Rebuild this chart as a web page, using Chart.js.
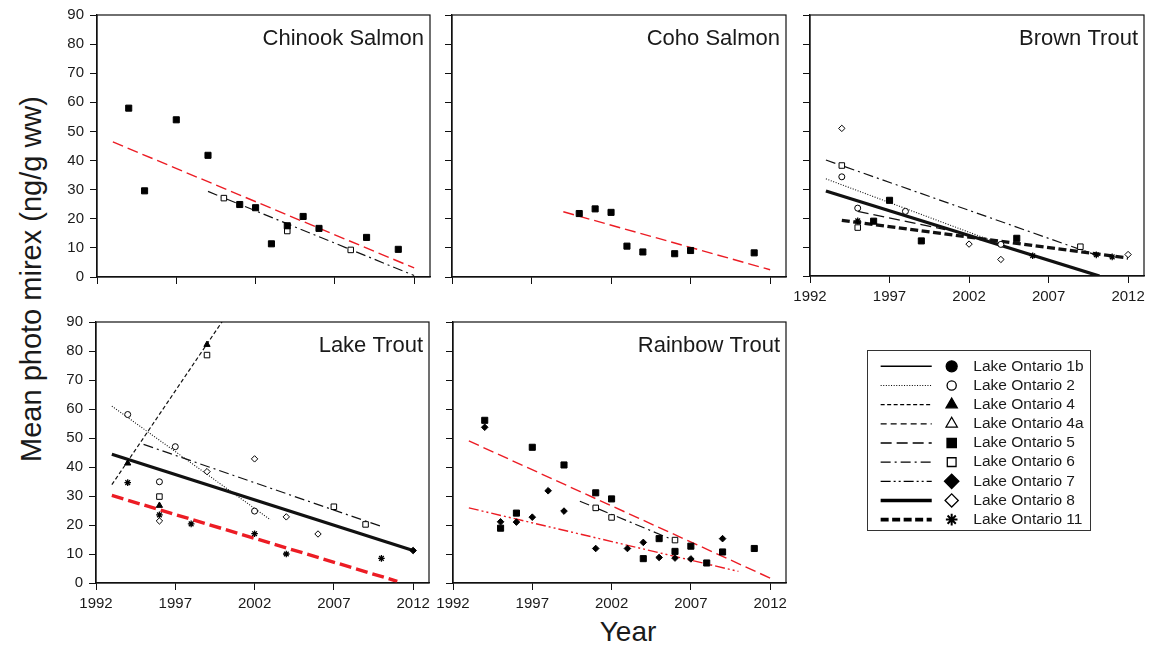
<!DOCTYPE html>
<html>
<head>
<meta charset="utf-8">
<title>Mean photo mirex in Lake Ontario salmonids</title>
<script src="https://cdn.jsdelivr.net/npm/chart.js@4/dist/chart.umd.min.js"></script>
<style>
  html, body { margin: 0; padding: 0; background: #fff; }
  body { width: 1150px; height: 648px; position: relative; overflow: hidden;
         font-family: "Liberation Sans", Arial, Helvetica, sans-serif; color: #1a1a1a; }
  .panel { position: absolute; }
  .panel canvas { display: block; }
  #ytitle { position: absolute; left: 31px; top: 279px; transform: translate(-50%, -50%) rotate(-90deg);
            font-size: 29px; white-space: nowrap; }
  #xtitle { position: absolute; left: 628px; top: 632px; transform: translate(-50%, -50%);
            font-size: 28px; white-space: nowrap; }
  #legendBox { position: absolute; left: 867px; top: 350px; width: 222px; height: 179px;
               border: 1px solid #333; background: #fff; }
  #legendBox canvas { display: block; }
</style>
</head>
<body>
<div id="ytitle">Mean photo mirex (ng/g ww)</div>
<div id="xtitle">Year</div>
<div id="legendBox"><canvas id="legendCanvas" width="222" height="179"></canvas></div>

<script>
// ---------- axis ticks ----------
const yearTicks = [1992, 1997, 2002, 2007, 2012];
const mirexTicks = [0, 10, 20, 30, 40, 50, 60, 70, 80, 90];

// ---------- Chinook Salmon ----------
const chinookYears5 = [1994, 1995, 1997, 1999, 2001, 2002, 2003, 2004, 2005, 2006, 2009, 2011];
const chinookMirex5 = [58.0, 29.6, 54.0, 41.8, 24.9, 23.8, 11.4, 17.6, 20.8, 16.7, 13.6, 9.5];
const chinookYears6 = [2000, 2004, 2008];
const chinookMirex6 = [27.1, 15.8, 9.3];
const chinookTrendYears5 = [1993, 2012];
const chinookTrend5 = [46.4, 3.1];
const chinookTrendYears6 = [1999, 2012];
const chinookTrend6 = [29.4, 0.5];

// ---------- Coho Salmon ----------
const cohoYears5 = [2000, 2001, 2002, 2003, 2004, 2006, 2007, 2011];
const cohoMirex5 = [21.8, 23.4, 22.2, 10.6, 8.6, 8.0, 9.1, 8.3];
const cohoTrendYears5 = [1999, 2012];
const cohoTrend5 = [22.4, 2.5];

// ---------- Brown Trout ----------
const brownYears2 = [1994, 1995, 1998, 2004];
const brownMirex2 = [34.2, 23.4, 22.3, 10.9];
const brownYears5 = [1996, 1997, 1999, 2005];
const brownMirex5 = [18.9, 26.1, 12.1, 13.0];
const brownYears6 = [1994, 1995, 2009];
const brownMirex6 = [38.1, 16.7, 10.1];
const brownYears8 = [1994, 2002, 2004, 2012];
const brownMirex8 = [50.9, 11.0, 5.7, 7.4];
const brownYears11 = [1995, 2006, 2010, 2011];
const brownMirex11 = [19.0, 7.0, 7.3, 6.6];
const brownTrendYears2 = [1993, 2004];
const brownTrend2 = [33.5, 11.0];
const brownTrendYears5 = [1995, 2000.5];
const brownTrend5 = [22.3, 16.0];
const brownTrendYears6 = [1993, 2010];
const brownTrend6 = [40.0, 7.2];
const brownTrendYears8 = [1993, 2010.2];
const brownTrend8 = [29.3, 0];
const brownTrendYears11 = [1994, 2012];
const brownTrend11 = [19.2, 6.2];

// ---------- Lake Trout ----------
const lakeYears2 = [1994, 1996, 1997, 2002];
const lakeMirex2 = [58.1, 34.9, 47.0, 24.8];
const lakeYears4 = [1994, 1996, 1999];
const lakeMirex4 = [41.3, 26.7, 82.2];
const lakeYears6 = [1996, 1999, 2007, 2009];
const lakeMirex6 = [29.8, 78.6, 26.3, 20.2];
const lakeYears7 = [2012];
const lakeMirex7 = [11.2];
const lakeYears8 = [1996, 1999, 2002, 2004, 2006];
const lakeMirex8 = [21.4, 38.4, 42.8, 22.8, 16.9];
const lakeYears11 = [1994, 1996, 1998, 2002, 2004, 2010];
const lakeMirex11 = [34.6, 23.5, 20.4, 17.0, 10.0, 8.5];
const lakeTrendYears2 = [1993, 2003];
const lakeTrend2 = [61.0, 21.8];
const lakeTrendYears4 = [1993, 2000];
const lakeTrend4 = [33.9, 90.5];
const lakeTrendYears6 = [1995, 2010];
const lakeTrend6 = [47.8, 19.5];
const lakeTrendYears8 = [1993, 2012];
const lakeTrend8 = [44.4, 11.2];
const lakeTrendYears11 = [1993, 2011];
const lakeTrend11 = [30.2, 0.6];

// ---------- Rainbow Trout ----------
const rainbowYears5 = [1994, 1995, 1996, 1997, 1999, 2001, 2002, 2004, 2005, 2006, 2007, 2008, 2009, 2011];
const rainbowMirex5 = [56.1, 18.9, 24.1, 46.8, 40.7, 31.1, 29.0, 8.4, 15.3, 10.9, 12.7, 6.9, 10.7, 11.9];
const rainbowYears6 = [2001, 2002, 2006];
const rainbowMirex6 = [25.9, 22.6, 14.8];
const rainbowYears7 = [1994, 1995, 1996, 1997, 1998, 1999, 2001, 2003, 2004, 2005, 2006, 2007, 2009];
const rainbowMirex7 = [53.7, 21.1, 21.0, 22.7, 31.8, 24.8, 11.9, 11.9, 14.0, 8.8, 8.6, 8.3, 15.3];
const rainbowTrendYears5 = [1993, 2012];
const rainbowTrend5 = [49.0, 1.7];
const rainbowTrendYears6 = [2000, 2006];
const rainbowTrend6 = [28.2, 14.6];
const rainbowTrendYears7 = [1993, 2010];
const rainbowTrend7 = [25.9, 4.0];

// ---------- legend ----------
const stationKeys = ['1b', '2', '4', '4a', '5', '6', '7', '8', '11'];
const stationNames = ['Lake Ontario 1b', 'Lake Ontario 2', 'Lake Ontario 4', 'Lake Ontario 4a',
                      'Lake Ontario 5', 'Lake Ontario 6', 'Lake Ontario 7', 'Lake Ontario 8', 'Lake Ontario 11'];

// ---------- styling ----------
const FONT = '"Liberation Sans", Arial, Helvetica, sans-serif';
const INK = '#111';
const TEXT = '#1a1a1a';
const RED = '#ec1c24';

// marker + line style for each sampling station
const STYLE = {
  '1b': { marker: 'circle',   r: 3.2, fill: '#000', dash: [],                 width: 1.4, lr: 5.5, lwidth: 1.5 },
  '2':  { marker: 'circle',   r: 3.0, fill: '#fff', dash: [1, 1.6],           width: 1.1, lr: 4.6, lwidth: 1.1 },
  '4':  { marker: 'triangle', r: 3.6, fill: '#000', dash: [4, 2.5],           width: 1.2, lr: 6.5, lwidth: 1.2 },
  '4a': { marker: 'triangle', r: 3.6, fill: '#fff', dash: [6, 4],             width: 1.2, lr: 6.5, lwidth: 1.2 },
  '5':  { marker: 'rect',     r: 4.3, fill: '#000', dash: [11, 5],            width: 1.4, lr: 6.6, lwidth: 1.4 },
  '6':  { marker: 'rect',     r: 3.9, fill: '#fff', dash: [10, 4, 2, 4],      width: 1.2, lr: 6.2, lwidth: 1.3 },
  '7':  { marker: 'rectRot',  r: 3.3, fill: '#000', dash: [10, 3, 2, 3, 2, 3], width: 1.4, lr: 7.2, lwidth: 1.3 },
  '8':  { marker: 'rectRot',  r: 3.2, fill: '#fff', dash: [],                 width: 3.3, lr: 6.6, lwidth: 3.6 },
  '11': { marker: 'star',     r: 3.3, fill: '#000', dash: [8, 3.5],           width: 3.4, lr: 5.8, lwidth: 3.6 }
};
const LONG_RED_DASH = [12, 5];

// panel geometry: plot area [left, top, right, bottom] in page pixels
const PAD = { left: 60, top: 12, right: 12, bottom: 42 };

function pts(xs, ys) { return xs.map((x, i) => ({ x: x, y: ys[i] })); }

// frame around each plot area + panel title in the upper right corner
const framePlugin = {
  id: 'frame',
  afterDraw(chart, args, opts) {
    const { ctx, chartArea: a } = chart;
    ctx.save();
    ctx.strokeStyle = INK;
    ctx.lineWidth = 1.2;
    ctx.strokeRect(a.left, a.top, a.right - a.left, a.bottom - a.top);
    if (opts.title) {
      ctx.font = '22px ' + FONT;
      ctx.fillStyle = TEXT;
      ctx.textAlign = 'right';
      ctx.textBaseline = 'alphabetic';
      ctx.fillText(opts.title, a.right - 6, a.top + 30);
    }
    ctx.restore();
  }
};
Chart.register(framePlugin);

const panels = [
  { title: 'Chinook Salmon', area: [97, 15, 430, 277], xLabels: false, yLabels: true,
    series: [['5', chinookYears5, chinookMirex5], ['6', chinookYears6, chinookMirex6]],
    trends: [['5', chinookTrendYears5, chinookTrend5, RED], ['6', chinookTrendYears6, chinookTrend6, INK]] },
  { title: 'Coho Salmon', area: [452, 15, 786, 277], xLabels: false, yLabels: false,
    series: [['5', cohoYears5, cohoMirex5]],
    trends: [['5', cohoTrendYears5, cohoTrend5, RED]] },
  { title: 'Brown Trout', area: [810, 15, 1144, 276], xLabels: true, yLabels: false,
    series: [['2', brownYears2, brownMirex2], ['5', brownYears5, brownMirex5], ['6', brownYears6, brownMirex6],
             ['8', brownYears8, brownMirex8], ['11', brownYears11, brownMirex11]],
    trends: [['2', brownTrendYears2, brownTrend2, INK], ['5', brownTrendYears5, brownTrend5, INK],
             ['6', brownTrendYears6, brownTrend6, INK], ['8', brownTrendYears8, brownTrend8, INK],
             ['11', brownTrendYears11, brownTrend11, INK]] },
  { title: 'Lake Trout', area: [96, 322, 429, 583], xLabels: true, yLabels: true,
    series: [['2', lakeYears2, lakeMirex2], ['4', lakeYears4, lakeMirex4], ['6', lakeYears6, lakeMirex6],
             ['7', lakeYears7, lakeMirex7], ['8', lakeYears8, lakeMirex8], ['11', lakeYears11, lakeMirex11]],
    trends: [['2', lakeTrendYears2, lakeTrend2, INK], ['4', lakeTrendYears4, lakeTrend4, INK],
             ['6', lakeTrendYears6, lakeTrend6, INK], ['8', lakeTrendYears8, lakeTrend8, INK],
             ['11', lakeTrendYears11, lakeTrend11, RED, LONG_RED_DASH]] },
  { title: 'Rainbow Trout', area: [453, 322, 786, 583], xLabels: true, yLabels: false,
    series: [['5', rainbowYears5, rainbowMirex5], ['6', rainbowYears6, rainbowMirex6], ['7', rainbowYears7, rainbowMirex7]],
    trends: [['5', rainbowTrendYears5, rainbowTrend5, RED], ['6', rainbowTrendYears6, rainbowTrend6, INK],
             ['7', rainbowTrendYears7, rainbowTrend7, RED]] }
];

function tickFont(size) { return { size: size, family: FONT }; }

function makePanel(p) {
  const [l, t, r, b] = p.area;
  const W = (r - l) + PAD.left + PAD.right;
  const H = (b - t) + PAD.top + PAD.bottom;
  const div = document.createElement('div');
  div.className = 'panel';
  div.style.left = (l - PAD.left) + 'px';
  div.style.top = (t - PAD.top) + 'px';
  div.style.width = W + 'px';
  div.style.height = H + 'px';
  const canvas = document.createElement('canvas');
  canvas.width = W;
  canvas.height = H;
  div.appendChild(canvas);
  document.body.appendChild(div);

  const datasets = [];
  p.series.forEach(([key, xs, ys]) => {
    const s = STYLE[key];
    datasets.push({
      type: 'scatter', label: 'Lake Ontario ' + key, data: pts(xs, ys), showLine: false,
      pointStyle: s.marker, pointRadius: s.r, pointBackgroundColor: s.fill,
      pointBorderColor: '#000', pointBorderWidth: s.marker === 'star' ? 1.3 : 1, order: 0
    });
  });
  p.trends.forEach(([key, xs, ys, color, dash]) => {
    const s = STYLE[key];
    datasets.push({
      type: 'line', label: 'Lake Ontario ' + key + ' trend', data: pts(xs, ys),
      borderColor: color, borderWidth: s.width, borderDash: dash || s.dash, pointRadius: 0,
      fill: false, tension: 0, order: 1
    });
  });

  new Chart(canvas, {
    type: 'scatter',
    data: { datasets },
    options: {
      responsive: false, animation: false, events: [],
      layout: { autoPadding: false, padding: { left: 0, top: PAD.top, right: PAD.right, bottom: 0 } },
      plugins: { legend: { display: false }, tooltip: { enabled: false }, frame: { title: p.title } },
      scales: {
        x: {
          type: 'linear', min: 1992, max: 2013,
          afterBuildTicks: (a) => { a.ticks = yearTicks.map(v => ({ value: v })); },
          afterFit: (s) => { s.height = PAD.bottom; s.paddingLeft = 0; s.paddingRight = 0; },
          grid: { display: true, drawOnChartArea: false, drawTicks: true, tickLength: 7,
                  tickColor: INK, tickWidth: 1, color: INK },
          border: { display: true, color: INK, width: 1.3 },
          ticks: { display: p.xLabels, autoSkip: false, maxRotation: 0, padding: 5,
                   color: TEXT, font: tickFont(15), callback: (v) => String(v) }
        },
        y: {
          type: 'linear', min: 0, max: 90,
          afterBuildTicks: (a) => { a.ticks = mirexTicks.map(v => ({ value: v })); },
          afterFit: (s) => { s.width = PAD.left; s.paddingTop = 0; s.paddingBottom = 0; },
          grid: { display: true, drawOnChartArea: false, drawTicks: true, tickLength: 7,
                  tickColor: INK, tickWidth: 1, color: INK },
          border: { display: true, color: INK, width: 1.3 },
          ticks: { display: p.yLabels, autoSkip: false, padding: 6,
                   color: TEXT, font: tickFont(15), callback: (v) => String(v) }
        }
      }
    }
  });
}

panels.forEach(makePanel);

// ---------- legend: one row per station (line sample, marker, name) ----------
const LEGEND_SAMPLE = [13, 65.5];   // x extent of the line sample (legend units 0..100)
const LEGEND_MARK = 86;             // x position of the marker
const legendSets = [];
stationKeys.forEach((key, i) => {
  const s = STYLE[key];
  legendSets.push({
    type: 'line', data: [{ x: LEGEND_SAMPLE[0], y: i }, { x: LEGEND_SAMPLE[1], y: i }],
    borderColor: '#000', borderWidth: s.lwidth, borderDash: s.dash,
    pointRadius: 0, fill: false, order: 1
  });
  legendSets.push({
    type: 'scatter', data: [{ x: LEGEND_MARK, y: i }], showLine: false,
    pointStyle: s.marker, pointRadius: s.lr, pointBackgroundColor: s.fill,
    pointBorderColor: '#000', pointBorderWidth: s.marker === 'star' ? 2 : 1.3, order: 0
  });
});

new Chart(document.getElementById('legendCanvas'), {
  type: 'scatter',
  data: { datasets: legendSets },
  options: {
    responsive: false, animation: false, events: [],
    layout: { autoPadding: false, padding: { left: 0, top: 5.7, right: 0, bottom: 0.8 } },
    plugins: { legend: { display: false }, tooltip: { enabled: false }, frame: false },
    scales: {
      x: { type: 'linear', display: false, min: 0, max: 100 },
      y: {
        type: 'linear', position: 'right', reverse: true, min: -0.5, max: 8.5,
        afterBuildTicks: (a) => { a.ticks = stationNames.map((_, i) => ({ value: i })); },
        afterFit: (s) => { s.width = 124.7; s.paddingTop = 0; s.paddingBottom = 0; },
        grid: { display: false, drawTicks: false },
        border: { display: false },
        ticks: { padding: 8, autoSkip: false, color: TEXT, font: tickFont(15.5),
                 callback: (v) => stationNames[v] }
      }
    }
  }
});
</script>
</body>
</html>
